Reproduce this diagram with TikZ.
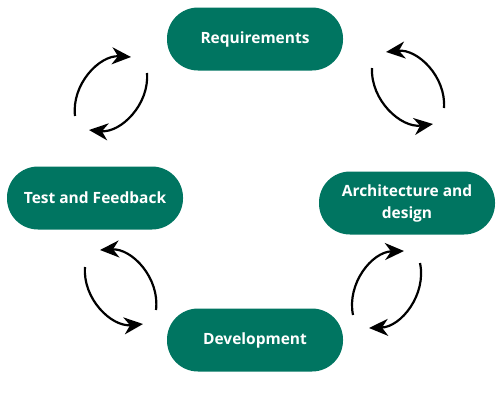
\documentclass[tikz,border=0pt]{standalone}
\usepackage{fontspec}
\setmainfont{Open Sans}
\usepackage{tikz}
\usetikzlibrary{arrows.meta}
\definecolor{sdlc_green}{RGB}{0, 117, 97}
\tikzstyle{phase}=[rectangle,rounded corners=31pt,fill=sdlc_green,draw=none,
  text=white,font=\bfseries\fontsize{15.5}{22}\selectfont,align=center,
  minimum width=176pt,minimum height=63pt,inner sep=0pt]
\tikzstyle{loop}=[line width=2.2pt,-{Stealth[length=19pt,width=17pt,inset=6pt]}]
\tikzstyle{none}=[]

\begin{document}
\begin{tikzpicture}[x=1pt,y=1pt]
            \useasboundingbox (0, 0) rectangle (500, -400);
            \node [style=phase] (0) at (255, -39) {Requirements};
            \node [style=phase] (1) at (407, -203) {Architecture and\\design};
            \node [style=phase] (2) at (255, -340) {Development};
            \node [style=phase] (3) at (95, -198) {Test and Feedback};
            \node [style=none] (4) at (75, -116) {};
            \node [style=none] (5) at (131, -57) {};
            \node [style=none] (6) at (147, -73) {};
            \node [style=none] (7) at (89, -130) {};
            \node [style=none] (8) at (372, -68) {};
            \node [style=none] (9) at (433, -124) {};
            \node [style=none] (10) at (444, -108) {};
            \node [style=none] (11) at (386, -52) {};
            \node [style=none] (12) at (85, -267) {};
            \node [style=none] (13) at (143, -324) {};
            \node [style=none] (14) at (156, -310) {};
            \node [style=none] (15) at (100, -250) {};
            \node [style=none] (16) at (353, -315) {};
            \node [style=none] (17) at (404, -251) {};
            \node [style=none] (18) at (420, -263) {};
            \node [style=none] (19) at (369, -328) {};
            \draw [style=loop, bend left=50] (4.center) to (5.center);
            \draw [style=loop, bend left=50] (6.center) to (7.center);
            \draw [style=loop, bend right=50] (8.center) to (9.center);
            \draw [style=loop, bend right=50] (10.center) to (11.center);
            \draw [style=loop, bend right=50] (12.center) to (13.center);
            \draw [style=loop, bend right=50] (14.center) to (15.center);
            \draw [style=loop, bend left=50] (16.center) to (17.center);
            \draw [style=loop, bend left=50] (18.center) to (19.center);
    \end{tikzpicture}
\end{document}
